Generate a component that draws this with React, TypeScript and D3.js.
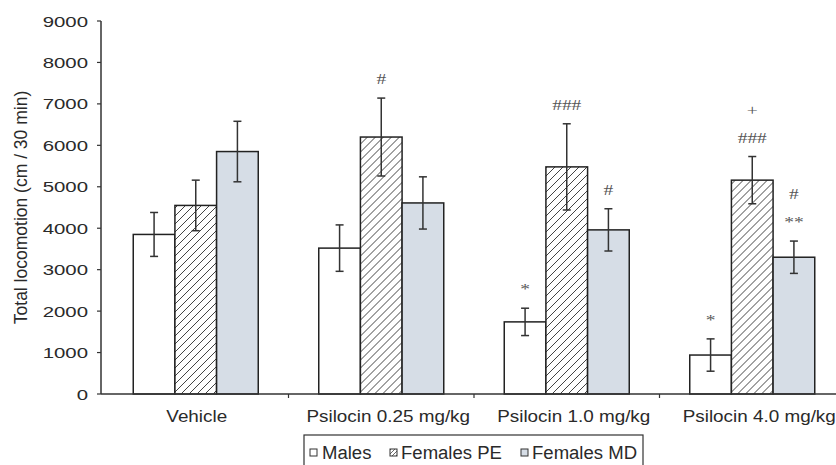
import React from "react";
import * as d3 from "d3";

const groups = ["Vehicle", "Psilocin 0.25 mg/kg", "Psilocin 1.0 mg/kg", "Psilocin 4.0 mg/kg"];
const series = ["Males", "Females PE", "Females MD"];

const males = [3850, 3520, 1740, 940];
const malesErr = [530, 560, 330, 390];
const femalesPE = [4550, 6200, 5480, 5160];
const femalesPEErr = [610, 940, 1040, 570];
const femalesMD = [5850, 4610, 3960, 3300];
const femalesMDErr = [730, 630, 510, 390];

// significance marks, listed bottom line first
const malesMarks = [[], [], ["*"], ["*"]];
const femalesPEMarks = [[], ["#"], ["###"], ["###", "+"]];
const femalesMDMarks = [[], [], ["#"], ["**", "#"]];

const yTicks = [0, 1000, 2000, 3000, 4000, 5000, 6000, 7000, 8000, 9000];

const W = 836;
const H = 465;
const FONT = "Liberation Sans, Arial, sans-serif";

export default function App() {
  const y = d3.scaleLinear().domain([0, 9000]).range([394, 21]);
  const x0 = d3.scaleBand().domain(groups).range([103, 845]).padding(0);
  const bw = x0.bandwidth();
  const x1 = d3
    .scaleBand()
    .domain(series)
    .range([(bw - 125) / 2, (bw + 125) / 2])
    .padding(0);

  const values = [males, femalesPE, femalesMD];
  const errs = [malesErr, femalesPEErr, femalesMDErr];
  const marks = [malesMarks, femalesPEMarks, femalesMDMarks];
  const fills = ["#ffffff", "url(#hatch)", "#d6dde6"];

  // the scan is stretched sideways, so some text gets a horizontal scale
  const txt = (x: number, yy: number, s: string, size: number, sx: number, anchor: string) => (
    <text
      transform={`translate(${x},${yy}) scale(${sx},1)`}
      fontSize={size}
      textAnchor={anchor}
      fontFamily={FONT}
      fill="#2a2a2a"
    >
      {s}
    </text>
  );

  const legendItems = [
    { label: series[0], fill: "#ffffff", x: 310, tx: 322 },
    { label: series[1], fill: "url(#hatchSmall)", x: 390, tx: 401 },
    { label: series[2], fill: fills[2], x: 521, tx: 532 },
  ];

  return (
    <svg width={W} height={H} style={{ position: "absolute", left: 0, top: 0, background: "#fff" }}>
      <defs>
        <pattern id="hatch" patternUnits="userSpaceOnUse" width="8" height="8">
          <rect width="8" height="8" fill="#fff" />
          <path d="M-2,2 L2,-2 M0,8 L8,0 M6,10 L10,6" stroke="#444" strokeWidth="1" />
        </pattern>
        <pattern id="hatchSmall" patternUnits="userSpaceOnUse" width="4" height="4">
          <rect width="4" height="4" fill="#fff" />
          <path d="M0,4 L4,0" stroke="#444" strokeWidth="0.8" />
        </pattern>
      </defs>

      {/* y axis */}
      <line x1={101} x2={101} y1={y(9000)} y2={y(0)} stroke="#333" strokeWidth={1.5} />
      {yTicks.map((t) => (
        <g key={t}>
          <line x1={97} x2={101} y1={y(t)} y2={y(t)} stroke="#333" strokeWidth={1.2} />
          {txt(88, y(t) + 5.5, String(t), 15, 1.36, "end")}
        </g>
      ))}
      <text
        transform={`translate(27,${(y(0) + y(9000)) / 2}) rotate(-90)`}
        fontSize={17.5}
        textAnchor="middle"
        fontFamily={FONT}
        fill="#2a2a2a"
      >
        Total locomotion (cm / 30 min)
      </text>

      {/* bars */}
      {groups.map((g, gi) => (
        <g key={g} transform={`translate(${x0(g)},0)`}>
          {series.map((s, si) => {
            const v = values[si][gi];
            const e = errs[si][gi];
            const bx = x1(s)!;
            const cx = bx + x1.bandwidth() / 2;
            const top = y(v + e);
            return (
              <g key={s}>
                <rect
                  x={bx}
                  y={y(v)}
                  width={x1.bandwidth()}
                  height={y(0) - y(v)}
                  fill={fills[si]}
                  stroke="#222"
                  strokeWidth={1.5}
                />
                <line x1={cx} x2={cx} y1={y(v + e)} y2={y(v - e)} stroke="#333" strokeWidth={1.5} />
                <line x1={cx - 4} x2={cx + 4} y1={y(v + e)} y2={y(v + e)} stroke="#333" strokeWidth={1.5} />
                <line x1={cx - 4} x2={cx + 4} y1={y(v - e)} y2={y(v - e)} stroke="#333" strokeWidth={1.5} />
                {marks[si][gi].map((m, mi) => (
                  <text
                    key={mi}
                    transform={`translate(${cx},${top - 14 - mi * 28}) scale(1.3,1)`}
                    fontSize={15}
                    textAnchor="middle"
                    fontFamily="Liberation Serif, Times New Roman, serif"
                    fill="#555"
                  >
                    {m}
                  </text>
                ))}
              </g>
            );
          })}
        </g>
      ))}

      {/* x axis */}
      <line x1={101} x2={W} y1={y(0)} y2={y(0)} stroke="#333" strokeWidth={1.5} />
      {groups.slice(1).map((g) => (
        <line key={g} x1={x0(g)!} x2={x0(g)!} y1={y(0)} y2={y(0) + 4} stroke="#333" strokeWidth={1.2} />
      ))}
      {groups.map((g, gi) => (
        <g key={g}>{txt(x0(g)! + bw / 2 + (gi === 0 ? 1 : 7), 422, g, 16, 1.18, "middle")}</g>
      ))}

      {/* legend */}
      <rect x={304} y={435} width={339} height={40} fill="none" stroke="#333" strokeWidth={1.2} />
      {legendItems.map((d) => (
        <g key={d.label}>
          <rect x={d.x} y={449} width={7} height={7} fill={d.fill} stroke="#333" strokeWidth={1} />
          {txt(d.tx, 459, d.label, 18, 1.03, "start")}
        </g>
      ))}
    </svg>
  );
}
